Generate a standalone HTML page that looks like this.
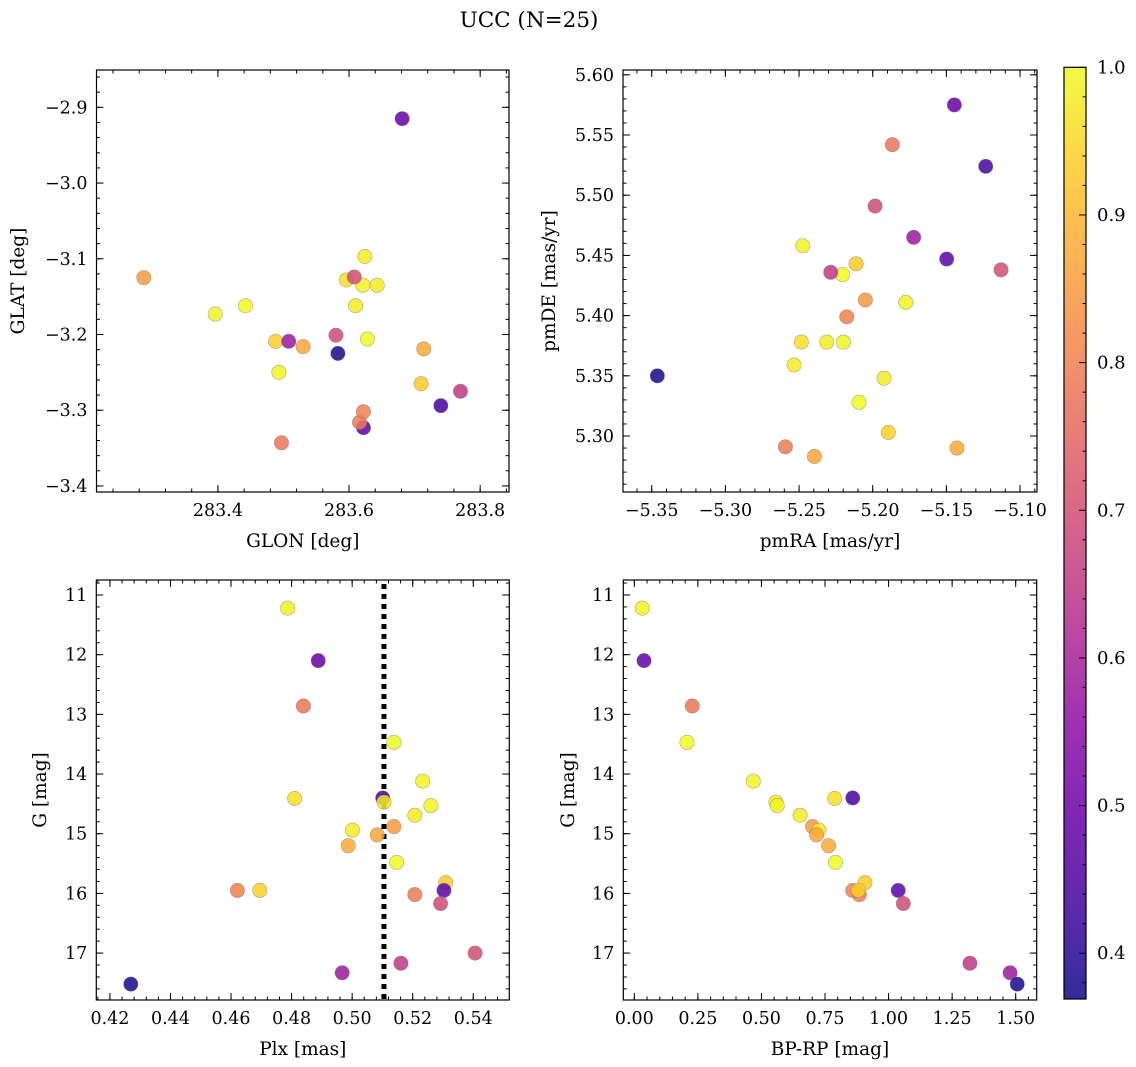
<!DOCTYPE html>
<html><head><meta charset="utf-8"><style>
html,body{margin:0;padding:0;background:#fff;}
svg{display:block;font-family:"DejaVu Serif","Liberation Serif",serif;}
</style></head><body>
<svg id="fig" width="1136" height="1067" viewBox="0 0 1136 1067" xmlns="http://www.w3.org/2000/svg">
<text x="529" y="27" font-size="21.5" text-anchor="middle">UCC (N=25)</text>
</svg>
<script>
const glon=[283.396,283.681,283.497,283.442,283.493,283.596,283.740,283.624,283.621,283.643,283.287,283.610,283.530,283.714,283.628,283.710,283.622,283.616,283.580,283.622,283.488,283.608,283.770,283.508,283.583];
const glat=[-3.173,-2.915,-3.343,-3.162,-3.250,-3.128,-3.294,-3.097,-3.135,-3.135,-3.125,-3.162,-3.216,-3.219,-3.206,-3.265,-3.323,-3.316,-3.201,-3.302,-3.209,-3.124,-3.275,-3.209,-3.225];
const pmra=[-5.2475,-5.1446,-5.1867,-5.2204,-5.1776,-5.2484,-5.1233,-5.2312,-5.2199,-5.2534,-5.2050,-5.1923,-5.2396,-5.1428,-5.2093,-5.2113,-5.1498,-5.2593,-5.1984,-5.2176,-5.1894,-5.1129,-5.2285,-5.1722,-5.3462];
const pmde=[5.458,5.575,5.542,5.434,5.411,5.378,5.524,5.378,5.378,5.359,5.413,5.348,5.283,5.290,5.328,5.443,5.447,5.291,5.491,5.399,5.303,5.438,5.436,5.465,5.350];
const plx=[0.4787,0.4888,0.4839,0.5138,0.5233,0.4810,0.5101,0.5105,0.5260,0.5207,0.5138,0.5001,0.5083,0.4987,0.5147,0.5309,0.5303,0.5207,0.5292,0.4621,0.4695,0.5406,0.5161,0.4967,0.4269];
const gmag=[11.22,12.10,12.86,13.47,14.12,14.41,14.40,14.47,14.53,14.69,14.88,14.94,15.02,15.20,15.48,15.82,15.95,16.02,16.17,15.95,15.95,17.00,17.17,17.33,17.52];
const bprp=[0.031,0.038,0.228,0.207,0.468,0.788,0.859,0.557,0.562,0.652,0.701,0.726,0.717,0.764,0.791,0.907,1.038,0.885,1.058,0.859,0.881,null,1.320,1.478,1.506];
const prob=[0.99,0.49,0.78,1.0,0.99,0.96,0.44,0.98,0.99,0.98,0.85,0.98,0.87,0.88,1.0,0.93,0.47,0.79,0.69,0.80,0.94,0.70,0.65,0.58,0.38];
const plxLine=[0.5105];
const cbTicks=[0.4,0.5,0.6,0.7,0.8,0.9,1.0];

const NS="http://www.w3.org/2000/svg";
const svg=document.getElementById('fig');
const VMIN=0.369,VMAX=1.0;
const plasma=[[13,8,135],[65,4,157],[106,0,168],[143,13,164],[177,42,144],[204,71,120],[225,100,98],[242,132,75],[252,166,54],[252,206,37],[240,249,33]];
function cmap(v){let t=(v-VMIN)/(VMAX-VMIN);t=Math.max(0,Math.min(1,t))*10;const i=Math.min(9,Math.floor(t)),f=t-i;const a=plasma[i],b=plasma[i+1];return 'rgb('+a.map((c,k)=>Math.round(c+(b[k]-c)*f)).join(',')+')';}
function el(tag,attrs,parent){const e=document.createElementNS(NS,tag);for(const k in attrs)e.setAttribute(k,attrs[k]);(parent||svg).appendChild(e);return e;}
function fmt(v,d){const s=Math.abs(v).toFixed(d);return (v<0?'\u2212':'')+s;}

function panel(o){
  const g=el('g',{});
  
  
  const X=v=>o.x0+(v-o.xmin)/(o.xmax-o.xmin)*(o.x1-o.x0);
  const Y=o.yinv?(v=>o.y0+(v-o.ymin)/(o.ymax-o.ymin)*(o.y1-o.y0)):(v=>o.y1-(v-o.ymin)/(o.ymax-o.ymin)*(o.y1-o.y0));
  const tg=el('g',{stroke:'#000','stroke-width':1},g);
  function xt(step,len,labels,dec){const s=Math.ceil(o.xmin/step-1e-6);for(let k=s;k*step<=o.xmax+1e-9;k++){const v=k*step,px=X(v);
    el('line',{x1:px,x2:px,y1:o.y1,y2:o.y1-len},tg);el('line',{x1:px,x2:px,y1:o.y0,y2:o.y0+len},tg);
    if(labels){const t=el('text',{x:px,y:o.y1+24,'font-size':17.5,'text-anchor':'middle'},g);t.textContent=fmt(v,dec);}}}
  function yt(step,len,labels,dec){const lo=Math.min(o.ymin,o.ymax),hi=Math.max(o.ymin,o.ymax);const s=Math.ceil(lo/step-1e-6);for(let k=s;k*step<=hi+1e-9;k++){const v=k*step,py=Y(v);
    el('line',{x1:o.x0,x2:o.x0+len,y1:py,y2:py},tg);el('line',{x1:o.x1,x2:o.x1-len,y1:py,y2:py},tg);
    if(labels){const t=el('text',{x:o.x0-9,y:py+6,'font-size':17.5,'text-anchor':'end'},g);t.textContent=fmt(v,dec);}}}
  xt(o.xmaj,7,true,o.xdec);xt(o.xmin_,3.5,false);
  yt(o.ymaj,7,true,o.ydec);yt(o.ymin_,3.5,false);
  if(o.vline){for(const v of o.vline){const l=el('line',{x1:X(v),x2:X(v),y1:o.y0+4,y2:o.y1,stroke:'#000','stroke-width':5,'stroke-dasharray':'5,5'},g);}}
  for(let i=0;i<o.xs.length;i++){const xv=o.xs[i],yv=o.ys[i];if(xv==null||yv==null)continue;
    const px=X(xv),py=Y(yv);if(px<o.x0||px>o.x1||py<o.y0||py>o.y1)continue;
    const c=el('circle',{cx:px,cy:py,r:7.2,fill:cmap(prob[i]),'fill-opacity':0.85,stroke:'#777','stroke-opacity':0.6,'stroke-width':0.6},g);
    
    }
  const fr=el('rect',{x:o.x0,y:o.y0,width:o.x1-o.x0,height:o.y1-o.y0,fill:'none',stroke:'#000','stroke-width':1.2},g);
  
  const xl=el('text',{x:(o.x0+o.x1)/2,y:o.y1+55,'font-size':18.5,'text-anchor':'middle'},g);xl.textContent=o.xlabel;
  
  const yc=(o.y0+o.y1)/2;const yl=el('text',{x:0,y:0,'font-size':18.5,'text-anchor':'middle',transform:`translate(${o.ylx},${yc}) rotate(-90)`},g);yl.textContent=o.ylabel;
  
}
panel({name:'glon-glat-panel',x0:96.5,x1:509,y0:70,y1:492,xmin:283.2148,xmax:283.844,ymin:-3.408,ymax:-2.8507,xmaj:0.2,xmin_:0.04,xdec:1,ymaj:0.1,ymin_:0.02,ydec:1,xs:glon,ys:glat,xlabel:'GLON [deg]',ylabel:'GLAT [deg]',ylx:24});
panel({name:'proper-motion-panel',x0:623,x1:1037,y0:70,y1:492,xmin:-5.3695,xmax:-5.0885,ymin:5.2535,ymax:5.604,xmaj:0.05,xmin_:0.01,xdec:2,ymaj:0.05,ymin_:0.01,ydec:2,xs:pmra,ys:pmde,xlabel:'pmRA [mas/yr]',ylabel:'pmDE [mas/yr]',ylx:555});
panel({name:'parallax-mag-panel',x0:96.3,x1:509.3,y0:580,y1:1000,xmin:0.4155,xmax:0.5519,ymin:10.749,ymax:17.786,yinv:true,xmaj:0.02,xmin_:0.004,xdec:2,ymaj:1,ymin_:0.2,ydec:0,xs:plx,ys:gmag,xlabel:'Plx [mas]',ylabel:'G [mag]',ylx:46,vline:plxLine});
panel({name:'cmd-panel',x0:623.3,x1:1036.7,y0:580,y1:1000,xmin:-0.0433,xmax:1.5826,ymin:10.749,ymax:17.786,yinv:true,xmaj:0.25,xmin_:0.05,xdec:2,ymaj:1,ymin_:0.2,ydec:0,xs:bprp,ys:gmag,xlabel:'BP-RP [mag]',ylabel:'G [mag]',ylx:574});

const cb=el('g',{});


const cx0=1064,cx1=1086,cy0=67.3,cy1=999;
const CY=v=>cy1-(v-VMIN)/(VMAX-VMIN)*(cy1-cy0);
const defs=el('defs',{},cb);const lg=el('linearGradient',{id:'cbg',x1:0,y1:1,x2:0,y2:0},defs);
for(let k=0;k<=20;k++){const v=VMIN+(VMAX-VMIN)*k/20;el('stop',{offset:k/20,'stop-color':cmap(v),'stop-opacity':0.85},lg);}
el('rect',{x:cx0,y:cy0,width:cx1-cx0,height:cy1-cy0,fill:'url(#cbg)',stroke:'#000','stroke-width':1.2},cb);
for(let k=Math.ceil(VMIN/0.02-1e-6);k*0.02<=VMAX+1e-9;k++){const v=k*0.02,py=CY(v);const maj=Math.abs(v*10-Math.round(v*10))<1e-6;
  el('line',{x1:cx1,x2:cx1-(maj?7:3.5),y1:py,y2:py,stroke:'#000','stroke-width':1},cb);}
for(const v of cbTicks){const t=el('text',{x:cx1+11,y:CY(v)+6,'font-size':18},cb);t.textContent=v.toFixed(1);
  
  }
</script>
</body></html>
